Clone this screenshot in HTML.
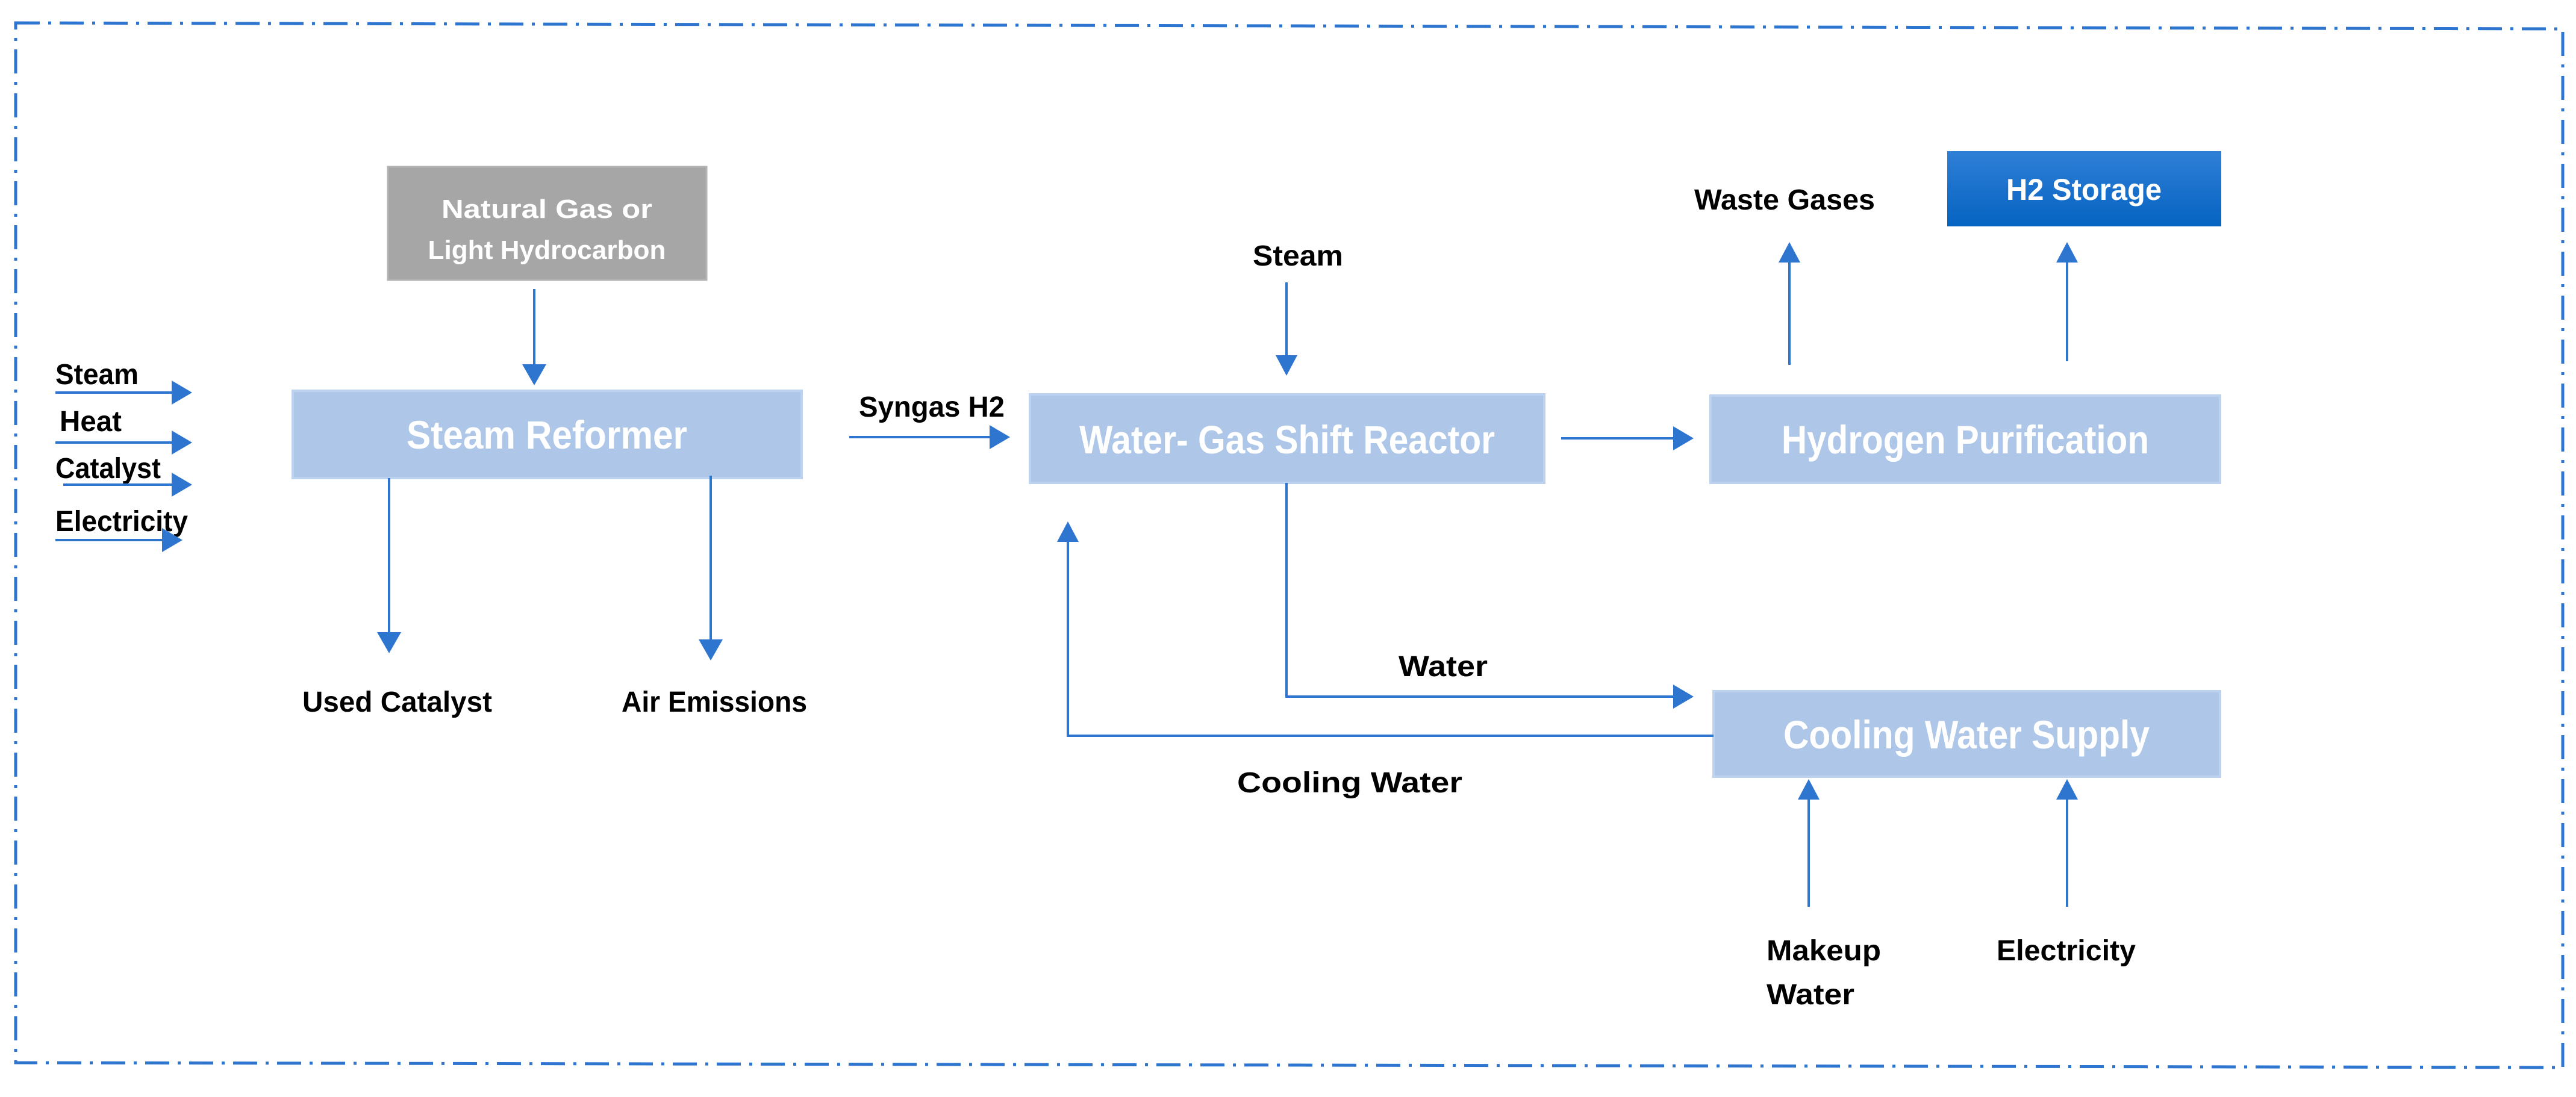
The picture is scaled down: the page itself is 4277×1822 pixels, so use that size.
<!DOCTYPE html>
<html><head><meta charset="utf-8"><style>
html,body{margin:0;padding:0;background:#fff;}
svg{display:block;}
text{font-family:"Liberation Sans",Arial,sans-serif;font-weight:bold;}
</style></head><body>
<svg width="4277" height="1822" viewBox="0 0 4277 1822" xmlns="http://www.w3.org/2000/svg">
<defs>
<linearGradient id="g" x1="0" y1="0" x2="0" y2="1"><stop offset="0" stop-color="#2f7fd6"/><stop offset="1" stop-color="#0563c1"/></linearGradient>
</defs>
<path d="M26 38 L4255 48 L4255 1773 L26 1765 Z" fill="none" stroke="#2e75d0" stroke-width="5" stroke-dasharray="40 14 5 14"/>

<g fill="#aec7e8" stroke="#bcd2ee" stroke-width="4">
<rect x="486" y="649" width="845" height="145"/>
<rect x="1710" y="655" width="854" height="147"/>
<rect x="2840" y="657" width="846" height="145"/>
<rect x="2845" y="1148" width="841" height="142"/>
</g>
<rect x="644" y="277" width="529" height="188" fill="#a6a6a6" stroke="#b3b3b3" stroke-width="3"/>
<rect x="3233" y="251" width="455" height="125" fill="url(#g)"/>

<g fill="#fff" text-anchor="middle">
<text x="908" y="362" font-size="44" textLength="350" lengthAdjust="spacingAndGlyphs">Natural Gas or</text>
<text x="908" y="430" font-size="44" textLength="395" lengthAdjust="spacingAndGlyphs">Light Hydrocarbon</text>
<text x="908" y="745" font-size="66" textLength="466" lengthAdjust="spacingAndGlyphs">Steam Reformer</text>
<text x="2137" y="753" font-size="66" textLength="690" lengthAdjust="spacingAndGlyphs">Water- Gas Shift Reactor</text>
<text x="3263" y="753" font-size="66" textLength="610" lengthAdjust="spacingAndGlyphs">Hydrogen Purification</text>
<text x="3265" y="1243" font-size="66" textLength="608" lengthAdjust="spacingAndGlyphs">Cooling  Water Supply</text>
<text x="3460" y="332" font-size="50" textLength="258" lengthAdjust="spacingAndGlyphs">H2 Storage</text>
</g>

<g fill="#000" font-size="48">
<text x="92" y="638" textLength="138" lengthAdjust="spacingAndGlyphs">Steam</text>
<text x="99" y="716" textLength="103" lengthAdjust="spacingAndGlyphs">Heat</text>
<text x="92" y="794" textLength="175" lengthAdjust="spacingAndGlyphs">Catalyst</text>
<text x="92" y="882" textLength="220" lengthAdjust="spacingAndGlyphs">Electricity</text>
<text x="502" y="1182" textLength="315" lengthAdjust="spacingAndGlyphs">Used Catalyst</text>
<text x="1032" y="1182" textLength="308" lengthAdjust="spacingAndGlyphs">Air Emissions</text>
<text x="1426" y="692" textLength="242" lengthAdjust="spacingAndGlyphs">Syngas H2</text>
<text x="2080" y="441" textLength="150" lengthAdjust="spacingAndGlyphs">Steam</text>
<text x="2813" y="348" textLength="300" lengthAdjust="spacingAndGlyphs">Waste Gases</text>
<text x="2322" y="1123" textLength="148" lengthAdjust="spacingAndGlyphs">Water</text>
<text x="2054" y="1316" textLength="374" lengthAdjust="spacingAndGlyphs">Cooling Water</text>
<text x="2933" y="1595" textLength="190" lengthAdjust="spacingAndGlyphs">Makeup</text>
<text x="2933" y="1668" textLength="146" lengthAdjust="spacingAndGlyphs">Water</text>
<text x="3315" y="1595" textLength="231" lengthAdjust="spacingAndGlyphs">Electricity</text>
</g>

<g stroke="#2e75d0" stroke-width="4" fill="none">
<line x1="92" y1="652" x2="292" y2="652"/>
<line x1="92" y1="735" x2="292" y2="735"/>
<line x1="105" y1="805" x2="292" y2="805"/>
<line x1="92" y1="897" x2="276" y2="897"/>
<line x1="887" y1="480" x2="887" y2="612"/>
<line x1="646" y1="794" x2="646" y2="1055"/>
<line x1="1180" y1="790" x2="1180" y2="1067"/>
<line x1="1410" y1="726" x2="1648" y2="726"/>
<line x1="2136" y1="469" x2="2136" y2="595"/>
<line x1="2592" y1="728" x2="2782" y2="728"/>
<line x1="2971" y1="606" x2="2971" y2="432"/>
<line x1="3432" y1="600" x2="3432" y2="432"/>
<polyline points="2136,802 2136,1157 2782,1157"/>
<polyline points="2845,1222 1773,1222 1773,895"/>
<line x1="3003" y1="1506" x2="3003" y2="1324"/>
<line x1="3432" y1="1506" x2="3432" y2="1324"/>
</g>
<g fill="#2e75d0">
<polygon points="285,632 319,652 285,672"/>
<polygon points="285,715 319,735 285,755"/>
<polygon points="285,785 319,805 285,825"/>
<polygon points="269,877 303,897 269,917"/>
<polygon points="867,605 907,605 887,640"/>
<polygon points="626,1050 666,1050 646,1085"/>
<polygon points="1160,1062 1200,1062 1180,1097"/>
<polygon points="1643,706 1677,726 1643,746"/>
<polygon points="2118,590 2154,590 2136,624"/>
<polygon points="2778,708 2812,728 2778,748"/>
<polygon points="2953,436 2989,436 2971,402"/>
<polygon points="3414,436 3450,436 3432,402"/>
<polygon points="2778,1137 2812,1157 2778,1177"/>
<polygon points="1755,900 1791,900 1773,866"/>
<polygon points="2985,1328 3021,1328 3003,1294"/>
<polygon points="3414,1328 3450,1328 3432,1294"/>
</g>
</svg>
</body></html>
